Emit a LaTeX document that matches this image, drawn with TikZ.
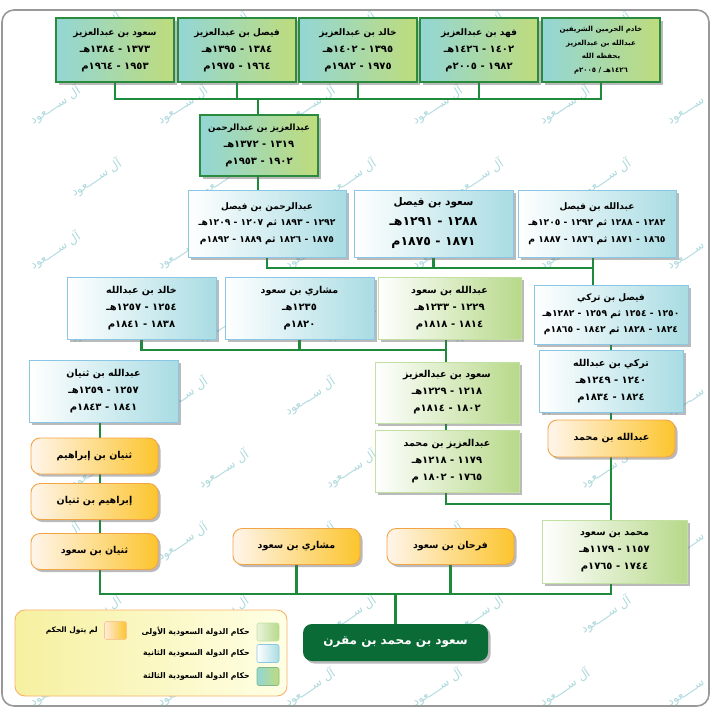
\documentclass[tikz,border=0pt]{standalone}
\usepackage{fontspec}
\usetikzlibrary{shadows,backgrounds}
\TeXXeTstate=1
\newfontfamily\arfont[Script=Arabic]{DejaVu Sans}
\newcommand\dt{\fontsize{10}{17}\selectfont}
\newcommand\dts{\fontsize{9.2}{16}\selectfont}
\newcommand\dtb{\fontsize{12.5}{20}\selectfont}
\definecolor{cLink}{HTML}{1E8A3C}
\definecolor{cTB}{HTML}{2A8A3E}
\definecolor{cTL}{HTML}{93D6D6}
\definecolor{cTR}{HTML}{BEDC7C}
\definecolor{cBB}{HTML}{8AC6E6}
\definecolor{cBF}{HTML}{A9DCE3}
\definecolor{cGB}{HTML}{C3E0A3}
\definecolor{cGF}{HTML}{B7D98A}
\definecolor{cOB}{HTML}{F3A447}
\definecolor{cOF}{HTML}{FCC52E}
\definecolor{cRoot}{HTML}{0B6B37}
\definecolor{cWm}{HTML}{AFDADE}
\definecolor{cLegF}{HTML}{F6F0A0}
\definecolor{cLegB}{HTML}{F9B26A}
\begin{document}
\begin{tikzpicture}[x=1pt,y=-1pt,
  every node/.style={font=\arfont\bfseries\fontsize{9.5}{17}\selectfont, align=center, inner sep=0pt},
  shd/.style={drop shadow={shadow xshift=2.5pt,shadow yshift=-2.5pt,opacity=0.45,fill=black!60}},
  st3/.style={draw=cTB, line width=1.3pt, left color=cTL, middle color=white!90!yellow, right color=cTR, shd},
  st2/.style={draw=cBB, line width=0.8pt, left color=white, right color=cBF, shd},
  st1/.style={draw=cGB, line width=0.8pt, left color=white, right color=cGF, shd},
  nrule/.style={draw=cOB, line width=0.9pt, rounded corners=9pt, left color=white!92!orange, right color=cOF, shd, minimum height=36pt},
  conn/.style={draw=cLink, line width=2.2pt},
  wm/.style={text=cWm, rotate=33, font=\arfont\fontsize{12}{13}\selectfont},
  swatch/.style={line width=0.6pt, rounded corners=2pt, minimum width=22pt, minimum height=18pt},
  legtxt/.style={anchor=east, font=\arfont\bfseries\fontsize{7.8}{9}\selectfont}
]
\useasboundingbox (0,0) rectangle (712,721);

% ---------- top row (third state) ----------
\node[st3, minimum width=118pt, minimum height=64pt, font=\arfont\bfseries\fontsize{9}{17}\selectfont] (t1) at (115,50)
  {{\beginR سعود بن عبدالعزيز\endR}\\{\dt\beginR ١٣٧٣ - ١٣٨٤هـ\endR}\\{\dt\beginR ١٩٥٣ - ١٩٦٤م\endR}};
\node[st3, minimum width=118pt, minimum height=64pt, font=\arfont\bfseries\fontsize{9}{17}\selectfont] (t2) at (237,50)
  {{\beginR فيصل بن عبدالعزيز\endR}\\{\dt\beginR ١٣٨٤ - ١٣٩٥هـ\endR}\\{\dt\beginR ١٩٦٤ - ١٩٧٥م\endR}};
\node[st3, minimum width=118pt, minimum height=64pt, font=\arfont\bfseries\fontsize{9}{17}\selectfont] (t3) at (358,50)
  {{\beginR خالد بن عبدالعزيز\endR}\\{\dt\beginR ١٣٩٥ - ١٤٠٢هـ\endR}\\{\dt\beginR ١٩٧٥ - ١٩٨٢م\endR}};
\node[st3, minimum width=118pt, minimum height=64pt, font=\arfont\bfseries\fontsize{9}{17}\selectfont] (t4) at (479,50)
  {{\beginR فهد بن عبدالعزيز\endR}\\{\dt\beginR ١٤٠٢ - ١٤٢٦هـ\endR}\\{\dt\beginR ١٩٨٢ - ٢٠٠٥م\endR}};
\node[st3, minimum width=118pt, minimum height=64pt, font=\arfont\bfseries\fontsize{7}{13.5}\selectfont] (t5) at (601,50)
  {{\beginR خادم الحرمين الشريفين\endR}\\{\beginR عبدالله بن عبدالعزيز\endR}\\{\beginR يحفظه الله\endR}\\{\beginR ١٤٢٦هـ / ٢٠٠٥م\endR}};

\node[st3, minimum width=118pt, minimum height=61pt, font=\arfont\bfseries\fontsize{8.6}{17}\selectfont] (az) at (259,145.5)
  {{\beginR عبدالعزيز بن عبدالرحمن\endR}\\{\dt\beginR ١٣١٩ - ١٣٧٢هـ\endR}\\{\dt\beginR ١٩٠٢ - ١٩٥٣م\endR}};

% ---------- row 3 ----------
\node[st2, minimum width=158pt, minimum height=67pt, font=\arfont\bfseries\fontsize{9}{16.5}\selectfont] (ar) at (267,223.5)
  {{\beginR عبدالرحمن بن فيصل\endR}\\{\dts\beginR ١٢٩٢ - ١٨٩٣ ثم ١٢٠٧ - ١٢٠٩هـ\endR}\\{\dts\beginR ١٨٧٥ - ١٨٢٦ ثم ١٨٨٩ - ١٨٩٢م\endR}};
\node[st2, minimum width=159pt, minimum height=67pt, font=\arfont\bfseries\fontsize{10.5}{20}\selectfont] (sf) at (433.5,223.5)
  {{\beginR سعود بن فيصل\endR}\\{\dtb\beginR ١٢٨٨ - ١٢٩١هـ\endR}\\{\dtb\beginR ١٨٧١ - ١٨٧٥م\endR}};
\node[st2, minimum width=158pt, minimum height=67pt, font=\arfont\bfseries\fontsize{9}{16.5}\selectfont] (af) at (597,223.5)
  {{\beginR عبدالله بن فيصل\endR}\\{\dts\beginR ١٢٨٢ - ١٢٨٨ ثم ١٢٩٢ - ١٢٠٥هـ\endR}\\{\dts\beginR ١٨٦٥ - ١٨٧١ ثم ١٨٧٦ - ١٨٨٧ م\endR}};

% ---------- row 4 ----------
\node[st2, minimum width=149pt, minimum height=62pt] (kh) at (141.5,308)
  {{\beginR خالد بن عبدالله\endR}\\{\dt\beginR ١٢٥٤ - ١٢٥٧هـ\endR}\\{\dt\beginR ١٨٣٨ - ١٨٤١م\endR}};
\node[st2, minimum width=149pt, minimum height=62pt] (ms) at (299.5,308)
  {{\beginR مشاري بن سعود\endR}\\{\dt\beginR ١٢٣٥هـ\endR}\\{\dt\beginR ١٨٢٠م\endR}};
\node[st1, minimum width=143pt, minimum height=62pt] (as) at (449.5,308)
  {{\beginR عبدالله بن سعود\endR}\\{\dt\beginR ١٢٢٩ - ١٢٣٣هـ\endR}\\{\dt\beginR ١٨١٤ - ١٨١٨م\endR}};
\node[st2, minimum width=154pt, minimum height=59pt, font=\arfont\bfseries\fontsize{9}{16}\selectfont] (ft) at (611,314.5)
  {{\beginR فيصل بن تركي\endR}\\{\dts\beginR ١٢٥٠ - ١٢٥٤ ثم ١٢٥٩ - ١٢٨٢هـ\endR}\\{\dts\beginR ١٨٢٤ - ١٨٢٨ ثم ١٨٤٢ - ١٨٦٥م\endR}};

% ---------- row 5 ----------
\node[st2, minimum width=149pt, minimum height=62pt] (at) at (103.5,391)
  {{\beginR عبدالله بن ثنيان\endR}\\{\dt\beginR ١٢٥٧ - ١٢٥٩هـ\endR}\\{\dt\beginR ١٨٤١ - ١٨٤٣م\endR}};
\node[st1, minimum width=144pt, minimum height=61pt] (sa) at (447,392.5)
  {{\beginR سعود بن عبدالعزيز\endR}\\{\dt\beginR ١٢١٨ - ١٢٢٩هـ\endR}\\{\dt\beginR ١٨٠٢ - ١٨١٤م\endR}};
\node[st2, minimum width=144pt, minimum height=62pt] (tk) at (611,381)
  {{\beginR تركي بن عبدالله\endR}\\{\dt\beginR ١٢٤٠ - ١٢٤٩هـ\endR}\\{\dt\beginR ١٨٢٤ - ١٨٣٤م\endR}};
\node[st1, minimum width=144pt, minimum height=62pt] (aam) at (447,461)
  {{\beginR عبدالعزيز بن محمد\endR}\\{\dt\beginR ١١٧٩ - ١٢١٨هـ\endR}\\{\dt\beginR ١٧٦٥ - ١٨٠٢ م\endR}};
\node[nrule, minimum width=127pt, minimum height=37pt] (am) at (611.5,438.5) {\beginR عبدالله بن محمد\endR};

\node[nrule, minimum width=127pt] (ti) at (94.5,456) {\beginR ثنيان بن إبراهيم\endR};
\node[nrule, minimum width=127pt] (it) at (94.5,501.5) {\beginR إبراهيم بن ثنيان\endR};
\node[nrule, minimum width=127pt] (tsd) at (94.5,551.5) {\beginR ثنيان بن سعود\endR};
\node[nrule, minimum width=127pt] (msd) at (296.5,546.5) {\beginR مشاري بن سعود\endR};
\node[nrule, minimum width=127pt] (fr) at (450.5,546.5) {\beginR فرحان بن سعود\endR};
\node[st1, minimum width=145pt, minimum height=63pt] (mb) at (614.5,551.5)
  {{\beginR محمد بن سعود\endR}\\{\dt\beginR ١١٥٧ - ١١٧٩هـ\endR}\\{\dt\beginR ١٧٤٤ - ١٧٦٥م\endR}};

\node[fill=cRoot, rounded corners=9pt, minimum width=185pt, minimum height=37pt, text=white, shd,
  font=\arfont\bfseries\fontsize{12}{14}\selectfont] (root) at (395.5,642.5) {\beginR سعود بن محمد بن مقرن\endR};

% ---------- legend ----------
\node[draw=cLegB, line width=0.9pt, rounded corners=10pt, left color=cLegF, right color=white!90!yellow,
  minimum width=272pt, minimum height=86pt] (leg) at (151,653) {};
\node[swatch, draw=cGB, left color=white!70!cGF, right color=cGF] (s1) at (268,632) {};
\node[swatch, draw=cBB, left color=white, right color=cBF] (s2) at (268,653.5) {};
\node[swatch, draw=cTB!60, left color=cTL, middle color=white, right color=cTR] (s3) at (268,676.5) {};
\node[swatch, draw=cOB!60, left color=white!85!orange, right color=cOF] (s4) at (115.5,630.5) {};
\node[legtxt] (l1) at (250,632) {\beginR حكام الدولة السعودية الأولى\endR};
\node[legtxt] (l2) at (250,653.5) {\beginR حكام الدولة السعودية الثانية\endR};
\node[legtxt] (l3) at (250,676.5) {\beginR حكام الدولة السعودية الثالثة\endR};
\node[legtxt, font=\arfont\bfseries\fontsize{7.5}{9}\selectfont] (l4) at (98,630.5) {\beginR لم يتول الحكم\endR};

% ---------- background: frame, watermark, connectors ----------
\begin{scope}[on background layer]
  \fill[white] (0,0) rectangle (712,721);
  \begin{scope}
    \clip[rounded corners=12pt] (2,10) rectangle (709,706);
    \foreach \j in {-1,...,8}{
      \pgfmathtruncatemacro\odd{mod(\j+2,2)}
      \pgfmathtruncatemacro\kmax{5-\odd}
      \foreach \k in {0,...,\kmax}{
        \pgfmathsetmacro\wx{55+127.4*\k+41*\odd}
        \pgfmathsetmacro\wy{105+72.8*\j}
        \node[wm] (wm-\j-\k) at (\wx,\wy) {\beginR آل ســــعود\endR};
      }
    }
  \end{scope}
  \draw[black!40, line width=1.6pt, rounded corners=12pt] (2,10) rectangle (709,706);

  \coordinate (j1) at (258,99);
  \coordinate (j2) at (593,268);
  \coordinate (j3) at (446,350);
  \coordinate (j4) at (611,504);
  \coordinate (j5) at (100,594);

  \draw[conn] (t1.south) |- (j1) -| (t5.south);
  \foreach \n in {t2,t3,t4} \draw[conn] (\n.south) -- (\n.south |- j1);
  \draw[conn] (j1) -- (j1 |- az.north);
  \draw[conn] (j1 |- az.south) -- (j1 |- ar.north);

  \draw[conn] (ar.south) |- (j2);
  \draw[conn] (sf.south) -- (sf.south |- j2);
  \draw[conn] (j2 |- af.south) -- (j2 |- ft.north);

  \draw[conn] (kh.south) |- (j3);
  \draw[conn] (ms.south) -- (ms.south |- j3);
  \draw[conn] (j3 |- as.south) -- (j3 |- sa.north);
  \draw[conn] (j3 |- sa.south) -- (j3 |- aam.north);

  \draw[conn] (j4 |- ft.south) -- (j4 |- tk.north);
  \draw[conn] (j4 |- tk.south) -- (j4 |- am.north);
  \draw[conn] (j3 |- aam.south) |- (j4);
  \draw[conn] (j4 |- am.south) -- (j4 |- mb.north);

  \draw[conn] (j5 |- at.south) -- (j5 |- ti.north);
  \draw[conn] (j5 |- ti.south) -- (j5 |- it.north);
  \draw[conn] (j5 |- it.south) -- (j5 |- tsd.north);
  \draw[conn] (j5 |- tsd.south) -- (j5) -- (j4 |- j5) -- (j4 |- mb.south);
  \draw[conn] (msd.south) -- (msd.south |- j5);
  \draw[conn] (fr.south) -- (fr.south |- j5);
  \draw[conn] (root.north) -- (root.north |- j5);
\end{scope}
\end{tikzpicture}
\end{document}
